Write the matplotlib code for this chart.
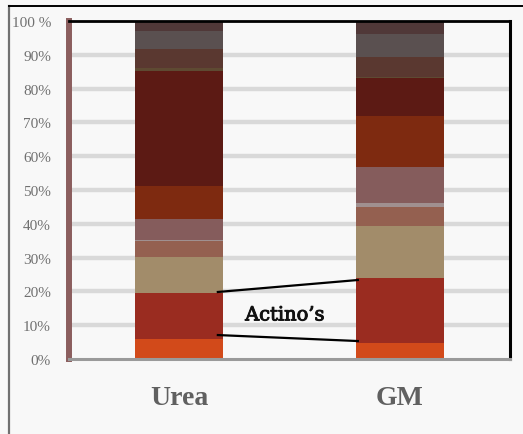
import matplotlib
matplotlib.use("Agg")
import matplotlib.pyplot as plt
import matplotlib.patheffects as pe
from matplotlib.lines import Line2D
import numpy as np

# Community composition (% of reads) per treatment, stacked bottom to top
categories = ["Urea", "GM"]
layer_names = ["L1", "L2", "L3", "L4", "L5", "L6", "L7", "L8", "L9", "L10", "L11", "L12"]
urea_values = [5.8, 13.7, 10.6, 4.8, 0.4, 6.2, 9.8, 33.9, 1.0, 5.4, 5.3, 3.1]
gm_values = [4.7, 19.3, 15.4, 5.7, 1.2, 10.6, 14.9, 11.3, 0.2, 6.1, 6.7, 3.9]
layer_colors = ["#D24A1A", "#9A2C20", "#A28C6A", "#946050", "#A09090", "#855C5C",
                "#7E2A10", "#5C1A14", "#5E4A32", "#5A3830", "#5A5050", "#503838"]
y_ticks = [0, 10, 20, 30, 40, 50, 60, 70, 80, 90, 100]
y_tick_labels = ["0%", "10%", "20%", "30%", "40%", "50%", "60%", "70%", "80%", "90%", "100 %"]
callout_text = "Actino\u2019s"

W, H = 523, 435
fig = plt.figure(figsize=(W / 100, H / 100), dpi=100, facecolor="#F8F8F8")
ax = fig.add_axes([69 / W, (H - 360) / H, (510 - 69) / W, (360 - 22) / H])
ax.set_facecolor("#F8F8F8")

# horizontal gridlines
for t in y_ticks[1:-1]:
    ax.axhline(t, color="#D9D9D9", lw=3.2, zorder=0)

data = np.array([urea_values, gm_values])
x = np.arange(len(categories))
bottom = np.zeros(len(categories))
for j in range(data.shape[1]):
    ax.bar(x, data[:, j], width=0.4, bottom=bottom, color=layer_colors[j],
           edgecolor="none", zorder=2, label=layer_names[j])
    bottom += data[:, j]

ax.set_xlim(-0.5, 1.5)
ax.set_ylim(0, 100)

# axis frame: shaded left wall, grey floor, black top/right edges
ax.spines["left"].set_color("#8B5E5E")
ax.spines["left"].set_linewidth(4.3)
ax.spines["bottom"].set_color("#9A9A9A")
ax.spines["bottom"].set_linewidth(2.2)
ax.spines["top"].set_color("black")
ax.spines["top"].set_linewidth(2.0)
ax.spines["right"].set_color("black")
ax.spines["right"].set_linewidth(2.2)
for s in ax.spines.values():
    s.set_zorder(5)

ax.set_yticks(y_ticks)
ax.set_yticklabels(y_tick_labels, fontfamily="Liberation Serif", fontsize=11, color="#707070")
ax.tick_params(axis="y", length=0, pad=13)
ax.set_xticks(x)
ax.set_xticklabels(categories, fontfamily="Liberation Serif", fontweight="bold",
                   fontsize=20, color="#606060")
ax.tick_params(axis="x", length=0, pad=19)

# callout lines towards the Actinobacteria layers
ax.plot([0.17, 0.815], [19.8, 23.4], color="black", lw=1.6, zorder=6, solid_capstyle="butt")
ax.plot([0.17, 0.815], [7.1, 5.3], color="black", lw=1.6, zorder=6, solid_capstyle="butt")
ax.text(0.48, 12.9, callout_text, fontfamily="DejaVu Serif", fontsize=14,
        ha="center", va="center", color="#111111", zorder=6,
        path_effects=[pe.withStroke(linewidth=0.7, foreground="#111111")])

# outer frame (left and top edges)
fig.add_artist(Line2D([9 / W, 9 / W], [0, 1 - 7 / H], transform=fig.transFigure,
                      color="#707070", lw=1.6))
fig.add_artist(Line2D([9 / W, 1], [1 - 7 / H, 1 - 7 / H], transform=fig.transFigure,
                      color="black", lw=1.4))

fig.savefig("out.png", dpi=100, facecolor=fig.get_facecolor())
